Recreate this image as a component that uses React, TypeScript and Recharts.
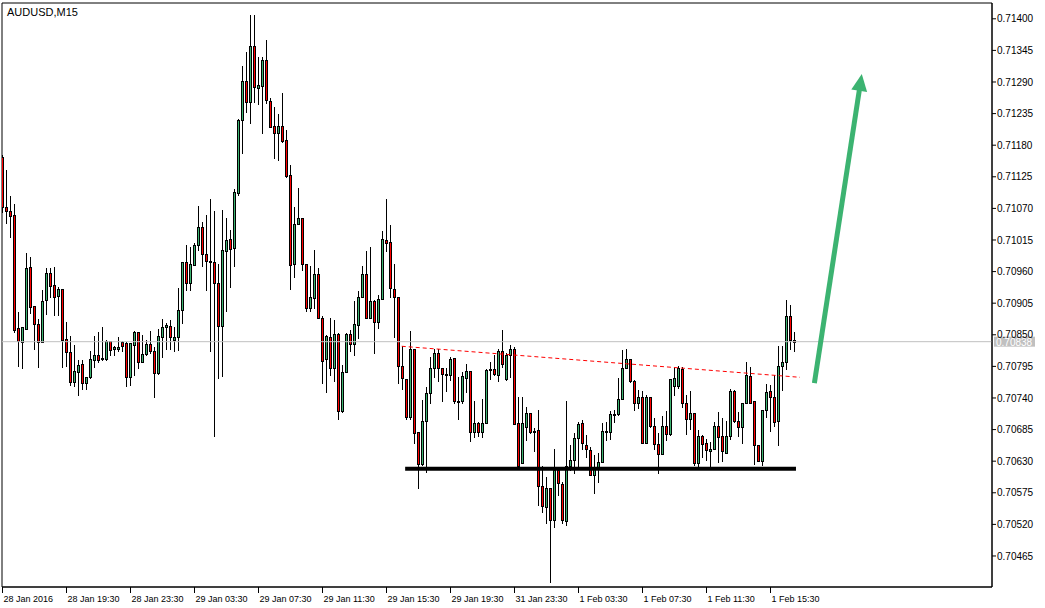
import { ComposedChart, Bar, XAxis, YAxis, ReferenceLine, ReferenceArea } from "recharts";

// AUDUSD M15 candles (oldest first)
const opens = [
  0.71159, 0.71072, 0.71065, 0.71058, 0.70862, 0.70838, 0.70860, 0.70968, 0.70900, 0.70869,
  0.70837, 0.70911, 0.70958, 0.70937, 0.70918, 0.70929, 0.70843, 0.70820, 0.70767, 0.70786,
  0.70799, 0.70766, 0.70777, 0.70806, 0.70815, 0.70807, 0.70808, 0.70839, 0.70825, 0.70826,
  0.70837, 0.70835, 0.70777, 0.70832, 0.70854, 0.70803, 0.70817, 0.70834, 0.70822, 0.70784,
  0.70847, 0.70864, 0.70865, 0.70841, 0.70847, 0.70894, 0.70976, 0.70941, 0.70971, 0.71006,
  0.71037, 0.70990, 0.70978, 0.70977, 0.70941, 0.70866, 0.70995, 0.71016, 0.71001, 0.71097,
  0.71224, 0.71292, 0.71256, 0.71353, 0.71279, 0.71283, 0.71329, 0.71257, 0.71214, 0.71202,
  0.71213, 0.71189, 0.71128, 0.70973, 0.71043, 0.71053, 0.70974, 0.70896, 0.70914, 0.70955,
  0.70880, 0.70807, 0.70846, 0.70792, 0.70851, 0.70718, 0.70786, 0.70851, 0.70834, 0.70867,
  0.70915, 0.70955, 0.70879, 0.70909, 0.70873, 0.70912, 0.71015, 0.71012, 0.70929, 0.70915,
  0.70796, 0.70773, 0.70707, 0.70825, 0.70680, 0.70625, 0.70700, 0.70748, 0.70792, 0.70819,
  0.70792, 0.70781, 0.70780, 0.70809, 0.70735, 0.70735, 0.70775, 0.70787, 0.70681, 0.70696,
  0.70681, 0.70697, 0.70790, 0.70790, 0.70780, 0.70821, 0.70773, 0.70815, 0.70825, 0.70696,
  0.70627, 0.70690, 0.70713, 0.70683, 0.70684, 0.70587, 0.70550, 0.70583, 0.70528, 0.70615,
  0.70590, 0.70526, 0.70622, 0.70632, 0.70670, 0.70696, 0.70659, 0.70649, 0.70606, 0.70619,
  0.70629, 0.70681, 0.70680, 0.70712, 0.70712, 0.70739, 0.70793, 0.70807, 0.70770, 0.70731,
  0.70741, 0.70662, 0.70741, 0.70691, 0.70660, 0.70643, 0.70691, 0.70677, 0.70760, 0.70760,
  0.70790, 0.70731, 0.70703, 0.70714, 0.70627, 0.70673, 0.70661, 0.70647, 0.70652, 0.70691,
  0.70673, 0.70645, 0.70673, 0.70752, 0.70700, 0.70690, 0.70732, 0.70778, 0.70735, 0.70658,
  0.70631, 0.70719, 0.70752, 0.70741, 0.70700, 0.70796, 0.70802, 0.70883, 0.70841,
];

const highs = [
  0.71163, 0.71136, 0.71092, 0.71078, 0.70890, 0.70864, 0.70992, 0.70985, 0.70900, 0.70877,
  0.70928, 0.70966, 0.70966, 0.70968, 0.70933, 0.70930, 0.70872, 0.70848, 0.70832, 0.70806,
  0.70806, 0.70777, 0.70821, 0.70848, 0.70855, 0.70864, 0.70841, 0.70839, 0.70830, 0.70847,
  0.70840, 0.70838, 0.70836, 0.70857, 0.70854, 0.70850, 0.70841, 0.70857, 0.70828, 0.70860,
  0.70877, 0.70871, 0.70875, 0.70863, 0.70931, 0.70976, 0.71006, 0.71002, 0.71010, 0.71074,
  0.71047, 0.71058, 0.71086, 0.71065, 0.70974, 0.71068, 0.71053, 0.71032, 0.71104, 0.71226,
  0.71318, 0.71343, 0.71407, 0.71407, 0.71334, 0.71333, 0.71363, 0.71262, 0.71246, 0.71234,
  0.71271, 0.71206, 0.71146, 0.71072, 0.71105, 0.71053, 0.70974, 0.70970, 0.70998, 0.70967,
  0.70883, 0.70850, 0.70879, 0.70876, 0.70853, 0.70797, 0.70853, 0.70858, 0.70909, 0.70926,
  0.70970, 0.70996, 0.71002, 0.70911, 0.70919, 0.71031, 0.71086, 0.71041, 0.70974, 0.70916,
  0.70830, 0.70773, 0.70857, 0.70825, 0.70680, 0.70737, 0.70759, 0.70811, 0.70826, 0.70826,
  0.70792, 0.70792, 0.70812, 0.70809, 0.70777, 0.70786, 0.70799, 0.70787, 0.70735, 0.70699,
  0.70738, 0.70790, 0.70802, 0.70815, 0.70825, 0.70858, 0.70818, 0.70832, 0.70829, 0.70742,
  0.70742, 0.70725, 0.70713, 0.70687, 0.70719, 0.70622, 0.70603, 0.70583, 0.70651, 0.70618,
  0.70594, 0.70734, 0.70658, 0.70679, 0.70699, 0.70702, 0.70676, 0.70654, 0.70641, 0.70644,
  0.70696, 0.70699, 0.70718, 0.70719, 0.70774, 0.70824, 0.70825, 0.70807, 0.70771, 0.70754,
  0.70753, 0.70745, 0.70741, 0.70706, 0.70679, 0.70709, 0.70718, 0.70773, 0.70793, 0.70796,
  0.70794, 0.70745, 0.70753, 0.70714, 0.70684, 0.70676, 0.70668, 0.70664, 0.70699, 0.70716,
  0.70706, 0.70700, 0.70755, 0.70754, 0.70716, 0.70732, 0.70803, 0.70794, 0.70735, 0.70658,
  0.70719, 0.70764, 0.70763, 0.70780, 0.70830, 0.70830, 0.70911, 0.70902, 0.70855,
];

const lows = [
  0.71064, 0.71045, 0.71021, 0.70855, 0.70796, 0.70792, 0.70860, 0.70888, 0.70825, 0.70794,
  0.70837, 0.70886, 0.70916, 0.70884, 0.70884, 0.70794, 0.70796, 0.70763, 0.70760, 0.70745,
  0.70756, 0.70756, 0.70775, 0.70794, 0.70803, 0.70806, 0.70806, 0.70815, 0.70814, 0.70821,
  0.70821, 0.70760, 0.70763, 0.70780, 0.70792, 0.70803, 0.70815, 0.70819, 0.70741, 0.70781,
  0.70812, 0.70825, 0.70825, 0.70822, 0.70824, 0.70870, 0.70928, 0.70928, 0.70971, 0.70998,
  0.70970, 0.70928, 0.70821, 0.70673, 0.70775, 0.70778, 0.70892, 0.70934, 0.70970, 0.71093,
  0.71166, 0.71238, 0.71219, 0.71256, 0.71252, 0.71201, 0.71253, 0.71211, 0.71158, 0.71154,
  0.71186, 0.71125, 0.70929, 0.70951, 0.71043, 0.70962, 0.70892, 0.70892, 0.70896, 0.70879,
  0.70766, 0.70751, 0.70780, 0.70770, 0.70703, 0.70716, 0.70786, 0.70821, 0.70815, 0.70844,
  0.70915, 0.70879, 0.70879, 0.70819, 0.70861, 0.70912, 0.70995, 0.70915, 0.70847, 0.70766,
  0.70755, 0.70703, 0.70703, 0.70662, 0.70583, 0.70623, 0.70612, 0.70732, 0.70777, 0.70770,
  0.70734, 0.70752, 0.70771, 0.70732, 0.70703, 0.70731, 0.70751, 0.70665, 0.70672, 0.70673,
  0.70672, 0.70697, 0.70773, 0.70780, 0.70770, 0.70794, 0.70771, 0.70777, 0.70694, 0.70622,
  0.70626, 0.70666, 0.70679, 0.70647, 0.70554, 0.70542, 0.70523, 0.70420, 0.70516, 0.70571,
  0.70522, 0.70519, 0.70615, 0.70609, 0.70620, 0.70651, 0.70638, 0.70606, 0.70574, 0.70594,
  0.70629, 0.70667, 0.70668, 0.70699, 0.70710, 0.70738, 0.70792, 0.70768, 0.70719, 0.70722,
  0.70661, 0.70661, 0.70690, 0.70651, 0.70609, 0.70643, 0.70667, 0.70676, 0.70745, 0.70757,
  0.70725, 0.70677, 0.70686, 0.70623, 0.70620, 0.70638, 0.70632, 0.70620, 0.70651, 0.70629,
  0.70631, 0.70645, 0.70668, 0.70699, 0.70673, 0.70661, 0.70732, 0.70731, 0.70625, 0.70631,
  0.70623, 0.70707, 0.70683, 0.70691, 0.70658, 0.70754, 0.70790, 0.70825, 0.70821,
];

const closes = [
  0.71072, 0.71066, 0.71057, 0.70858, 0.70839, 0.70863, 0.70966, 0.70899, 0.70869, 0.70837,
  0.70909, 0.70957, 0.70935, 0.70916, 0.70929, 0.70841, 0.70820, 0.70767, 0.70787, 0.70797,
  0.70766, 0.70777, 0.70807, 0.70815, 0.70806, 0.70810, 0.70840, 0.70824, 0.70828, 0.70829,
  0.70831, 0.70777, 0.70836, 0.70854, 0.70803, 0.70817, 0.70834, 0.70821, 0.70784, 0.70848,
  0.70863, 0.70867, 0.70846, 0.70846, 0.70894, 0.70976, 0.70940, 0.70974, 0.71006, 0.71037,
  0.70990, 0.70978, 0.70979, 0.70941, 0.70866, 0.70998, 0.71015, 0.70999, 0.71098, 0.71224,
  0.71292, 0.71256, 0.71353, 0.71281, 0.71285, 0.71329, 0.71259, 0.71212, 0.71202, 0.71213,
  0.71188, 0.71126, 0.70971, 0.71042, 0.71053, 0.70974, 0.70896, 0.70915, 0.70955, 0.70880,
  0.70805, 0.70848, 0.70792, 0.70851, 0.70718, 0.70786, 0.70851, 0.70834, 0.70868, 0.70916,
  0.70955, 0.70879, 0.70909, 0.70873, 0.70912, 0.71016, 0.71010, 0.70931, 0.70915, 0.70796,
  0.70774, 0.70707, 0.70825, 0.70679, 0.70625, 0.70700, 0.70748, 0.70792, 0.70818, 0.70792,
  0.70781, 0.70780, 0.70807, 0.70734, 0.70734, 0.70778, 0.70787, 0.70680, 0.70696, 0.70681,
  0.70696, 0.70789, 0.70789, 0.70781, 0.70822, 0.70800, 0.70815, 0.70825, 0.70694, 0.70622,
  0.70696, 0.70713, 0.70681, 0.70682, 0.70587, 0.70552, 0.70583, 0.70528, 0.70615, 0.70592,
  0.70528, 0.70622, 0.70632, 0.70670, 0.70694, 0.70661, 0.70651, 0.70606, 0.70620, 0.70629,
  0.70683, 0.70682, 0.70712, 0.70711, 0.70739, 0.70793, 0.70807, 0.70770, 0.70731, 0.70741,
  0.70662, 0.70741, 0.70691, 0.70660, 0.70643, 0.70691, 0.70677, 0.70773, 0.70774, 0.70792,
  0.70731, 0.70703, 0.70714, 0.70627, 0.70673, 0.70660, 0.70649, 0.70652, 0.70691, 0.70672,
  0.70648, 0.70674, 0.70752, 0.70700, 0.70690, 0.70732, 0.70780, 0.70732, 0.70658, 0.70631,
  0.70719, 0.70750, 0.70741, 0.70699, 0.70796, 0.70802, 0.70883, 0.70841, 0.70838,
];

const timeTickBars = [0, 16, 32, 48, 64, 80, 96, 112, 128, 144, 160, 176, 192];
const timeLabels = [
  "28 Jan 2016", "28 Jan 19:30", "28 Jan 23:30", "29 Jan 03:30", "29 Jan 07:30",
  "29 Jan 11:30", "29 Jan 15:30", "29 Jan 19:30", "31 Jan 23:30", "1 Feb 03:30",
  "1 Feb 07:30", "1 Feb 11:30", "1 Feb 15:30",
];
const priceTicks = [
  0.70465, 0.7052, 0.70575, 0.7063, 0.70685, 0.7074, 0.70795, 0.7085, 0.70905,
  0.7096, 0.71015, 0.7107, 0.71125, 0.7118, 0.71235, 0.7129, 0.71345, 0.714,
];

const lastPrice = 0.70838;
// drawn annotations, in (bar index, price)
const supportLine = [{ x: 100.7, y: 0.70617 }, { x: 198.4, y: 0.70617 }];
const resistanceLine = [{ x: 99.85, y: 0.7083 }, { x: 199.4, y: 0.70776 }];
const arrowLine = [{ x: 203, y: 0.70766 }, { x: 214.85, y: 0.71304 }];

const X_DOMAIN: [number, number] = [-0.08, 247.4];
const Y_DOMAIN: [number, number] = [0.70411, 0.714275];

const FONT = "Liberation Sans";
const BULL = "#3cb371";
const BEAR = "#ff0000";

const candles = opens.map((o, i) => ({
  bar: i,
  open: o,
  high: highs[i],
  low: lows[i],
  close: closes[i],
  range: [lows[i], highs[i]],
}));

function Candle(props: any) {
  const { x, y, width, height, payload } = props;
  if (x == null || y == null || height == null) return null;
  const top = Math.min(y, y + height);
  const span = Math.abs(height);
  // snap to the pixel grid so the 1px wick and outline stay crisp
  const col = Math.floor(x + width / 2);
  const { open, high, low, close } = payload;
  const k = high === low ? 0 : span / (high - low);
  const yOpen = top + (high - open) * k;
  const yClose = top + (high - close) * k;
  const bTop = Math.round(Math.min(yOpen, yClose));
  const bBot = Math.max(Math.round(Math.max(yOpen, yClose)), bTop + 1);
  const up = close >= open;
  return (
    <g shapeRendering="crispEdges">
      <line x1={col + 0.5} x2={col + 0.5} y1={Math.round(top)} y2={Math.round(top + span) + 1} stroke="#000" strokeWidth={1} />
      <rect
        x={col - 0.5}
        y={bTop + 0.5}
        width={2}
        height={bBot - bTop}
        fill={up ? BULL : BEAR}
        stroke="#000"
        strokeWidth={1}
      />
    </g>
  );
}

function TimeTick(props: any) {
  const { x, y, payload } = props;
  const label = timeLabels[timeTickBars.indexOf(payload.value)];
  const px = Math.floor(x) + 0.5;
  return (
    <g>
      <line x1={px} x2={px} y1={y} y2={y + 6} stroke="#000" shapeRendering="crispEdges" />
      <text x={px + 1} y={y + 15} fontSize={9} fontFamily={FONT} fill="#000">
        {label}
      </text>
    </g>
  );
}

function ArrowShape(props: any) {
  const { x1, y1, x2, y2 } = props;
  if ([x1, y1, x2, y2].some((v) => v == null || isNaN(v))) return null;
  const dx = x2 - x1;
  const dy = y2 - y1;
  const len = Math.hypot(dx, dy) || 1;
  const ux = dx / len;
  const uy = dy / len;
  const headLen = 17;
  const half = 8;
  const bx = x2 - ux * headLen;
  const by = y2 - uy * headLen;
  const px = -uy;
  const py = ux;
  return (
    <g>
      <line x1={x1} y1={y1} x2={bx + ux * 2} y2={by + uy * 2} stroke={BULL} strokeWidth={5} />
      <polygon
        points={`${x2},${y2} ${bx + px * half},${by + py * half} ${bx - px * half},${by - py * half}`}
        fill={BULL}
      />
    </g>
  );
}

function PriceTag(props: any) {
  const vb = props.viewBox;
  if (!vb) return null;
  const x = vb.x + vb.width;
  const y = vb.y;
  return (
    <g>
      <rect x={x + 2} y={y - 5} width={41} height={10} fill="#c0c0c0" />
      <text x={x + 4} y={y + 4} fontSize={10} fontFamily={FONT} fill="#fff">
        {lastPrice.toFixed(5)}
      </text>
    </g>
  );
}

export default function App() {
  return (
    <div style={{ position: "absolute", left: 0, top: 0, width: 1045, height: 608, background: "#fff" }}>
      <ComposedChart width={1045} height={608} data={candles} margin={{ top: 3, right: 0, bottom: 0, left: 2 }}>
        <XAxis
          type="number"
          dataKey="bar"
          domain={X_DOMAIN}
          allowDataOverflow
          ticks={timeTickBars}
          interval={0}
          height={21}
          tickSize={0}
          tickMargin={0}
          axisLine={{ stroke: "#000" }}
          tick={<TimeTick />}
        />
        <YAxis
          orientation="right"
          domain={Y_DOMAIN}
          allowDataOverflow
          ticks={priceTicks}
          interval={0}
          width={53}
          tickSize={4}
          tickMargin={1}
          axisLine={{ stroke: "#000" }}
          tickLine={{ stroke: "#000" }}
          tick={{ fontSize: 10, fontFamily: FONT, fill: "#000" }}
          tickFormatter={(v: number) => v.toFixed(5)}
        />
        <ReferenceArea x1={X_DOMAIN[0]} x2={X_DOMAIN[1]} y1={Y_DOMAIN[0]} y2={Y_DOMAIN[1]} fill="none" stroke="#000" />
        <ReferenceLine y={lastPrice} stroke="#c0c0c0" strokeWidth={1} label={<PriceTag />} />
        <Bar dataKey="range" barSize={3} isAnimationActive={false} shape={(p: any) => <Candle {...p} />} />
        <ReferenceLine segment={resistanceLine} stroke="#ff0000" strokeWidth={1} strokeDasharray="4 3" />
        <ReferenceLine segment={supportLine} stroke="#000" strokeWidth={4} />
        <ReferenceLine segment={arrowLine} shape={(p: any) => <ArrowShape {...p} />} />
      </ComposedChart>
      <div
        style={{
          position: "absolute",
          left: 7,
          top: 6,
          fontFamily: FONT,
          fontSize: 11,
          color: "#000",
          lineHeight: "12px",
        }}
      >
        AUDUSD,M15
      </div>
    </div>
  );
}
